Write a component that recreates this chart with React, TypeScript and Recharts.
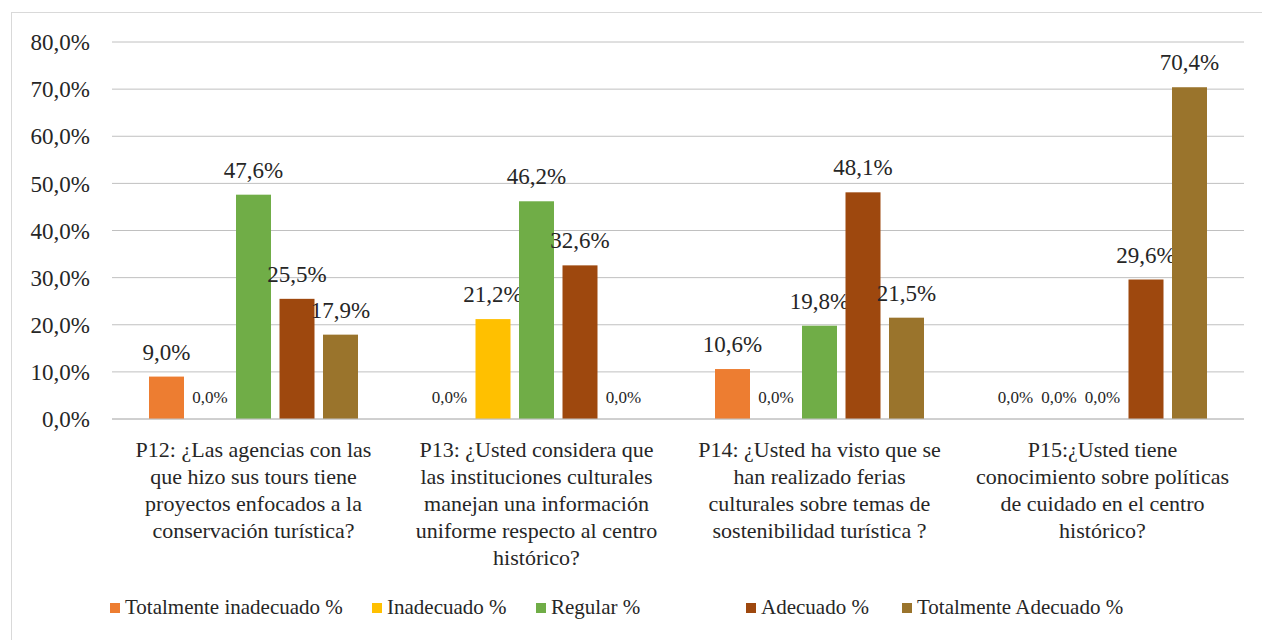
import { BarChart, Bar, XAxis, YAxis, CartesianGrid } from "recharts";

const categories = ["P12", "P13", "P14", "P15"];
const categoryLines = [
  ["P12: ¿Las agencias con las", "que hizo sus tours tiene", "proyectos enfocados a la", "conservación turística?"],
  ["P13: ¿Usted considera que", "las instituciones culturales", "manejan una información", "uniforme respecto al centro", "histórico?"],
  ["P14: ¿Usted ha visto que se", "han realizado ferias", "culturales sobre temas de", "sostenibilidad turística ?"],
  ["P15:¿Usted tiene", "conocimiento sobre políticas", "de cuidado en el centro", "histórico?"],
];

const seriesNames = [
  "Totalmente inadecuado %",
  "Inadecuado %",
  "Regular %",
  "Adecuado %",
  "Totalmente Adecuado %",
];
const seriesColors = ["#ED7D31", "#FFC000", "#70AD47", "#9E480E", "#9A742C"];

const totalmenteInadecuado = [9.0, 0.0, 10.6, 0.0];
const inadecuado = [0.0, 21.2, 0.0, 0.0];
const regular = [47.6, 46.2, 19.8, 0.0];
const adecuado = [25.5, 32.6, 48.1, 29.6];
const totalmenteAdecuado = [17.9, 0.0, 21.5, 70.4];

const yTicks = [0, 10, 20, 30, 40, 50, 60, 70, 80];

const seriesValues = [totalmenteInadecuado, inadecuado, regular, adecuado, totalmenteAdecuado];
const keys = ["s0", "s1", "s2", "s3", "s4"];

const data = categories.map((c, i) => {
  const row: Record<string, string | number> = { name: c };
  seriesValues.forEach((vals, s) => {
    row[keys[s]] = vals[i];
  });
  return row;
});

// legend item left edges, as laid out in the original
const legendLeft = [110, 372, 536, 746, 902];

const FONT = "Liberation Serif, Tinos, Noto Serif, DejaVu Serif, serif";
const TEXT = "#262626";

const pct = (v: number) => `${v.toFixed(1).replace(".", ",")}%`;

function CategoryTick(props: any) {
  const { x, y, payload } = props;
  const lines = categoryLines[payload.index] || [];
  return (
    <text x={x} y={y + 30} textAnchor="middle" fill={TEXT} fontSize={22} fontFamily={FONT}>
      {lines.map((l, i) => (
        <tspan key={i} x={x} dy={i === 0 ? 0 : 27}>
          {l}
        </tspan>
      ))}
    </text>
  );
}

// bar plus its data label (zero-height bars still get a smaller label)
function BarWithLabel(props: any) {
  const { x, y, width, height, fill, value } = props;
  const v = Number(Array.isArray(value) ? value[1] - value[0] : value);
  const zero = v === 0;
  const top = zero ? y + height : y;
  return (
    <g>
      {height > 0 && <rect x={x} y={y} width={width} height={height} fill={fill} />}
      <text
        x={x + width / 2}
        y={top - (zero ? 16 : 17)}
        textAnchor="middle"
        fill={TEXT}
        fontSize={zero ? 17 : 23}
        fontFamily={FONT}
      >
        {pct(v)}
      </text>
    </g>
  );
}

export default function App() {
  return (
    <div
      style={{
        position: "fixed",
        left: 0,
        top: 0,
        width: 1262,
        height: 640,
        overflow: "hidden",
        background: "#fff",
      }}
    >
      <div
        style={{
          position: "absolute",
          left: 11,
          top: 12,
          width: 1262,
          height: 640,
          border: "1.5px solid #D9D9D9",
        }}
      />
      <BarChart
        width={1262}
        height={640}
        data={data}
        margin={{ top: 42, right: 18, left: 0, bottom: 71 }}
        barSize={35}
        barGap={8.5}
        style={{ position: "absolute", left: 0, top: 0 }}
      >
        <CartesianGrid vertical={false} stroke="#C0C0C0" />
        <XAxis
          dataKey="name"
          height={150}
          axisLine={{ stroke: "#C0C0C0" }}
          tickLine={false}
          interval={0}
          tick={<CategoryTick />}
        />
        <YAxis
          width={112}
          domain={[0, 80]}
          ticks={yTicks}
          axisLine={false}
          tickLine={false}
          tickMargin={16}
          tickFormatter={pct}
          tick={{ fill: TEXT, fontSize: 23, fontFamily: FONT }}
        />
        {keys.map((k, s) => (
          <Bar
            key={k}
            dataKey={k}
            name={seriesNames[s]}
            fill={seriesColors[s]}
            isAnimationActive={false}
            shape={<BarWithLabel />}
          />
        ))}
      </BarChart>
      {seriesNames.map((n, s) => (
        <div
          key={n}
          style={{
            position: "absolute",
            left: legendLeft[s],
            top: 595,
            display: "flex",
            alignItems: "center",
            fontFamily: FONT,
            fontSize: 21,
            color: TEXT,
            whiteSpace: "nowrap",
          }}
        >
          <span
            style={{
              display: "inline-block",
              width: 10,
              height: 10,
              background: seriesColors[s],
              marginRight: 5,
            }}
          />
          <span>{n}</span>
        </div>
      ))}
    </div>
  );
}
